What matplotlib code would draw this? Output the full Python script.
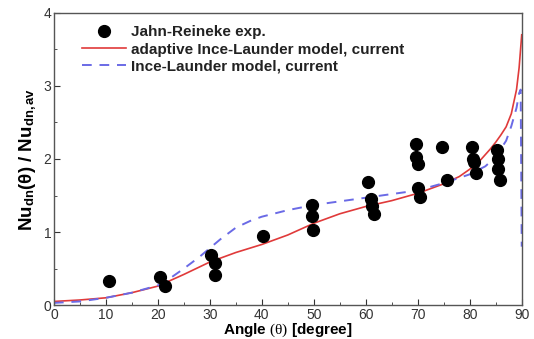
import matplotlib
matplotlib.use("Agg")
import matplotlib.pyplot as plt
from matplotlib.ticker import MultipleLocator

plt.rcParams['font.family'] = ['Liberation Sans', 'DejaVu Sans']
plt.rcParams['mathtext.fontset'] = 'custom'
plt.rcParams['mathtext.rm'] = 'Liberation Serif'
plt.rcParams['mathtext.it'] = 'Liberation Serif:italic'
plt.rcParams['mathtext.bf'] = 'Liberation Sans:bold'
plt.rcParams['mathtext.sf'] = 'Liberation Sans'

# Experimental data (Jahn-Reineke)
exp_angle = [10.6, 20.4, 21.3, 30.3, 30.9, 31.0, 40.2, 49.6, 49.7, 49.9,
             60.5, 61.0, 61.1, 61.5, 69.6, 69.7, 70.1, 70.0, 70.5, 74.7,
             75.6, 80.5, 80.6, 80.8, 81.2, 85.3, 85.5, 85.5, 85.9]
exp_nu = [0.33, 0.38, 0.26, 0.69, 0.57, 0.41, 0.94, 1.37, 1.22, 1.03,
          1.68, 1.45, 1.35, 1.25, 2.21, 2.03, 1.93, 1.60, 1.48, 2.16,
          1.71, 2.16, 2.00, 1.96, 1.81, 2.12, 2.00, 1.86, 1.71]

# adaptive Ince-Launder model
red_angle = [0, 5, 10, 15, 20, 25, 30, 35, 40, 45, 50, 55, 60, 65, 70, 75,
             78, 80, 82, 84, 85, 86, 87, 88, 89, 89.5, 90]
red_nu = [0.05, 0.07, 0.10, 0.17, 0.26, 0.42, 0.59, 0.72, 0.83, 0.96, 1.12,
          1.25, 1.35, 1.43, 1.53, 1.66, 1.76, 1.86, 1.98, 2.14, 2.23, 2.33,
          2.44, 2.62, 2.95, 3.25, 3.70]

# Ince-Launder model
blue_angle = [0, 5, 10, 15, 20, 22, 25, 28, 30, 32, 35, 38, 40, 45, 50, 55,
              60, 65, 70, 75, 80, 83, 85, 87, 88, 89, 89.5, 89.8, 90]
blue_nu = [0.03, 0.05, 0.10, 0.17, 0.27, 0.35, 0.50, 0.66, 0.78, 0.90, 1.06,
           1.16, 1.21, 1.30, 1.37, 1.42, 1.47, 1.52, 1.57, 1.67, 1.79, 1.90,
           2.03, 2.25, 2.45, 2.70, 2.90, 2.95, 0.80]

fig = plt.figure(figsize=(5.34, 3.39), dpi=100)
ax = fig.add_axes([0.101, 0.100, 0.876, 0.862])

ax.plot(exp_angle, exp_nu, 'o', color='black', markersize=8.5,
        label='Jahn-Reineke exp.', zorder=3)
ax.plot(red_angle, red_nu, '-', color='#e03a3a', linewidth=1.2,
        label='adaptive Ince-Launder model, current')
ax.plot(blue_angle, blue_nu, '--', color='#6a6ae6', linewidth=1.4,
        dashes=(5, 4), label='Ince-Launder model, current')

ax.set_xlim(0, 90)
ax.set_ylim(0, 4)
ax.xaxis.set_major_locator(MultipleLocator(10))
ax.xaxis.set_minor_locator(MultipleLocator(5))
ax.yaxis.set_major_locator(MultipleLocator(1))
ax.yaxis.set_minor_locator(MultipleLocator(0.5))
ax.tick_params(which='both', direction='in', labelsize=10, colors='#333333',
               pad=2)
ax.tick_params(which='major', length=4)
ax.tick_params(which='minor', length=2)
for s in ax.spines.values():
    s.set_color('#555555')
    s.set_linewidth(1.0)

ax.set_xlabel(r'Angle $\mathrm{(\theta)}$ [degree]', fontsize=11,
              fontweight='bold', labelpad=-0.5)
ax.set_ylabel(r'Nu$_{\mathbf{dn}}$(θ) / Nu$_{\mathbf{dn,av}}$', fontsize=13.5,
              fontweight='bold', labelpad=3)

leg = ax.legend(loc='upper left', bbox_to_anchor=(0.043, 0.983), frameon=False,
                prop={'weight': 'bold', 'size': 11}, handlelength=2.9,
                handletextpad=0.33, labelspacing=0.2, borderaxespad=0.1)
for t in leg.get_texts():
    t.set_color('#222222')

fig.savefig('out.png', dpi=100)
